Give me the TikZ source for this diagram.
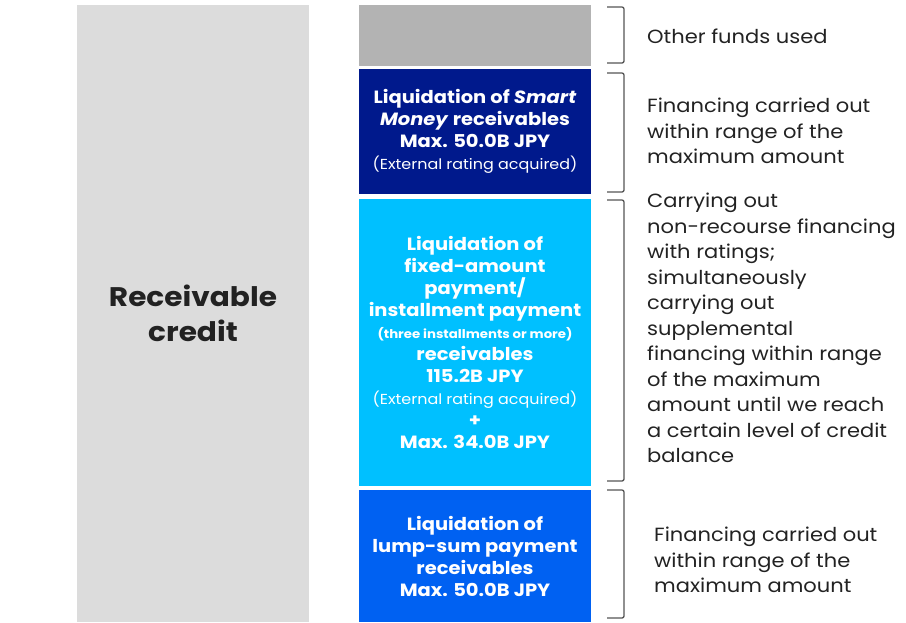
\documentclass[tikz,border=0pt]{standalone}
\usepackage{fontspec}
\setmainfont[FakeStretch=1.1]{Poppins}
\definecolor{leftgray}{HTML}{DCDCDC}
\definecolor{topgray}{HTML}{B3B3B3}
\definecolor{navy}{HTML}{00198C}
\definecolor{skyc}{HTML}{00C0FF}
\definecolor{bluec}{HTML}{0061F2}
\definecolor{brk}{HTML}{555555}
\definecolor{txt}{HTML}{222222}
\begin{document}
\begin{tikzpicture}[x=1pt,y=-1pt,
  bar/.style={inner sep=0pt, minimum width=232pt, align=center, text=white,
    font=\fontsize{17.7}{22}\selectfont\bfseries},
  note/.style={inner sep=0pt, anchor=west, align=left, text=txt,
    font=\fontsize{19.1}{25.5}\selectfont},
  brace/.style={draw=brk, line width=1.3pt, rounded corners=2pt}]
\useasboundingbox (0,0) rectangle (906,622);
\newcommand{\sm}{\fontsize{14.5}{22}\selectfont\mdseries}
\newcommand{\tn}{\fontsize{12.1}{22}\selectfont}
% left box
\node[fill=leftgray, inner sep=0pt, minimum width=232pt, minimum height=617pt,
  align=center, text=txt, font=\fontsize{26.9}{35}\selectfont\bfseries]
  (rc) at (193,313.5) {Receivable\\credit};
% stacked bars
\node[bar, fill=topgray, minimum height=61pt] (b1) at (475,35.5) {};
\node[bar, fill=navy, minimum height=125pt] (b2) at (475,131.5)
  {Liquidation of \textit{Smart}\\\textit{Money} receivables\\Max. 50.0B JPY\\{\sm(External rating acquired)}};
\node[bar, fill=skyc, minimum height=287pt] (b3) at (475,342.5)
  {Liquidation of\\fixed-amount\\payment/\\installment payment\\{\tn(three installments or more)}\\receivables\\115.2B JPY\\{\sm(External rating acquired)}\\+\\Max. 34.0B JPY};
\node[bar, fill=bluec, minimum height=132pt] (b4) at (475,556)
  {Liquidation of\\lump-sum payment\\receivables\\Max. 50.0B JPY};
% brackets
\draw[brace] (607,7) -| (624,63) -- (607,63);
\draw[brace] (607,73) -| (624,192) -- (607,192);
\draw[brace] (607,200) -| (624,481) -- (607,481);
\draw[brace] (607,490) -| (624,618) -- (607,618);
% notes
\node[note] (n1) at (647,36) {Other funds used};
\node[note] (n2) at (647,131) {Financing carried out\\within range of the\\maximum amount};
\node[note] (n3) at (647,328) {Carrying out\\non-recourse financing\\with ratings;\\simultaneously\\carrying out\\supplemental\\financing within range\\of the maximum\\amount until we reach\\a certain level of credit\\balance};
\node[note] (n4) at (654,560) {Financing carried out\\within range of the\\maximum amount};
\end{tikzpicture}
\end{document}
